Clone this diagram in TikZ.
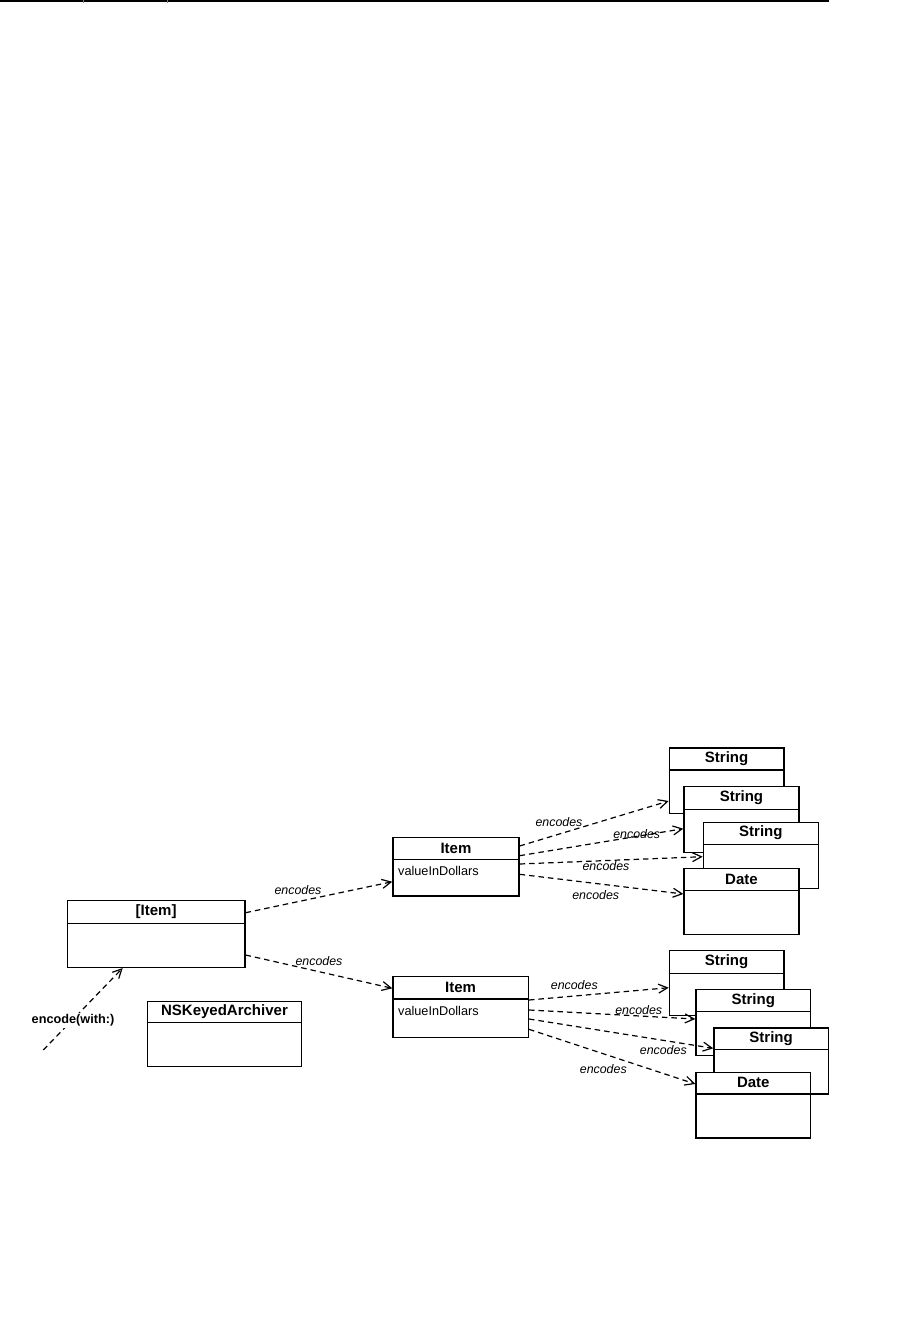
\documentclass[tikz,border=0pt]{standalone}
\usepackage{fontspec}
\setmainfont{Liberation Sans}
\usetikzlibrary{arrows.meta,calc}
\tikzset{
  cbox/.style={draw=black, fill=white, line width=1.3pt, rectangle, inner sep=0pt, anchor=north west},
  ctitle/.style={font=\fontsize{15}{18}\selectfont\bfseries, inner sep=0pt},
  cattr/.style={font=\fontsize{12.7}{15}\selectfont, inner sep=0pt, anchor=west},
  lbl/.style={font=\fontsize{12.4}{15}\selectfont\itshape, inner sep=0pt},
  dep/.style={draw=black, line width=1.2pt, dash pattern=on 5.5pt off 4pt, -{Straight Barb[length=9pt,width=9pt,line width=1.2pt]}},
}
\newcommand{\umlbox}[7]{%
  \node[cbox, minimum width=#4pt, minimum height=#5pt] (#1) at (#2,#3) {};
  \draw[line width=1.3pt] ([yshift=-#6pt]#1.north west) -- ([yshift=-#6pt]#1.north east);
  \node[ctitle] (#1-t) at ($(#1.north)+(0,#6/2)$) {#7};
}
\begin{document}
\begin{tikzpicture}[x=1pt,y=-1pt]
\useasboundingbox (0,0) rectangle (900,1339);
% top rule
\draw[line width=1.5pt] (0,0.75) -- (828.5,0.75);
\draw[line width=0.5pt, gray] (83,0) -- (83,3);
\draw[line width=0.5pt, gray] (167,0) -- (167,3);

% left
\umlbox{list}{66.7}{900}{177.6}{66.7}{23.3}{[Item]}
\umlbox{arch}{146.7}{1000.7}{154.3}{65.3}{22}{NSKeyedArchiver}

% items
\umlbox{itemT}{392.3}{836.7}{126}{58.6}{22.6}{Item}
\node[cattr] (itemT-a) at (398,871) {valueInDollars};
\umlbox{itemB}{392.3}{975.7}{135.4}{61}{23.3}{Item}
\node[cattr] (itemB-a) at (398,1010.7) {valueInDollars};

% top group
\umlbox{sT1}{668.7}{747.3}{114.6}{65.4}{22.7}{String}
\umlbox{sT2}{683.3}{786}{115}{65.7}{23.3}{String}
\umlbox{sT3}{702.7}{821.7}{115}{66}{22.6}{String}
\umlbox{dT}{683.3}{867.7}{115}{66.3}{23}{Date}

% bottom group
\umlbox{sB1}{668.7}{950}{114.6}{65}{23.3}{String}
\umlbox{sB2}{695.3}{989}{114.7}{66}{22.7}{String}
\umlbox{sB3}{713.3}{1027.3}{114.4}{66}{22}{String}
\umlbox{dB}{695.3}{1071.7}{114.7}{65.6}{22.3}{Date}

% connectors
\draw[dep] ([yshift=-12.7pt]list.north east) -- ([yshift=-45pt]itemT.north west);
\draw[dep] ([yshift=-55pt]list.north east) -- ([yshift=-12.6pt]itemB.north west);

\draw[dep] ([yshift=-9.3pt]itemT.north east) -- ([yshift=-53.7pt]sT1.north west);
\draw[dep] ([yshift=-19pt]itemT.north east) -- ([yshift=-42.7pt]sT2.north west);
\draw[dep] ([yshift=-27.3pt]itemT.north east) -- ([yshift=-35pt]sT3.north west);
\draw[dep] ([yshift=-37.6pt]itemT.north east) -- ([yshift=-26.3pt]dT.north west);

\draw[dep] ([yshift=-24.3pt]itemB.north east) -- ([yshift=-37.7pt]sB1.north west);
\draw[dep] ([yshift=-34.3pt]itemB.north east) -- ([yshift=-30pt]sB2.north west);
\draw[dep] ([yshift=-43.3pt]itemB.north east) -- ([yshift=-21pt]sB3.north west);
\draw[dep] ([yshift=-53.6pt]itemB.north east) -- ([yshift=-12.3pt]dB.north west);

\coordinate (src) at (43.3,1050);
\draw[dep] (src) -- ([xshift=56pt]list.south west);

% labels
\node[lbl] (l1) at (298,890) {encodes};
\node[lbl] (l2) at (319,960.7) {encodes};
\node[lbl] (l3) at (559,821.7) {encodes};
\node[lbl] (l4) at (636.7,834) {encodes};
\node[lbl] (l5) at (606,866) {encodes};
\node[lbl] (l6) at (595.7,895) {encodes};
\node[lbl] (l7) at (574.3,985) {encodes};
\node[lbl] (l8) at (638.7,1010) {encodes};
\node[lbl] (l9) at (663.3,1050) {encodes};
\node[lbl] (l10) at (603.3,1069) {encodes};
\node[fill=white, inner sep=1.5pt, font=\fontsize{12.7}{15}\selectfont\bfseries] (enc) at (73,1020.7) {encode(with:)};
\end{tikzpicture}
\end{document}
